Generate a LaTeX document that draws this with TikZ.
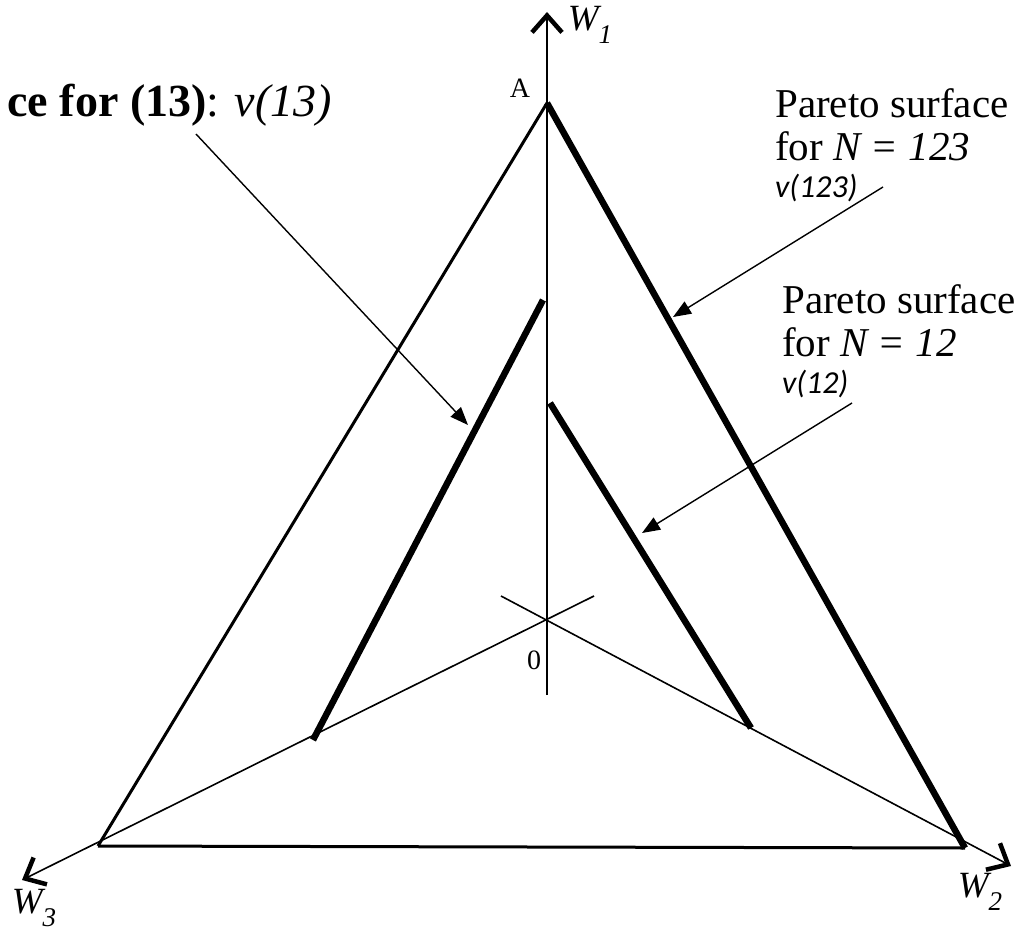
\documentclass[tikz,border=0pt]{standalone}
\usepackage{fontspec}
\setmainfont{Liberation Serif}
\newfontfamily\calib{Carlito}
\usetikzlibrary{arrows.meta}
\tikzset{
  axisline/.style={line width=1.6pt,-{Straight Barb[length=17pt,width=30pt,line width=4.5pt]}},
  thinside/.style={line width=3pt},
  thickside/.style={line width=6.5pt},
  pointer/.style={line width=1.4pt,-{Triangle[length=18pt,width=14pt]}},
  lbl/.style={inner sep=0pt,anchor=base west,font=\fontsize{41}{46}\selectfont},
  vlbl/.style={inner sep=0pt,anchor=base west,font=\calib\itshape\fontsize{32}{36}\selectfont},
  wlbl/.style={inner sep=0pt,font=\itshape\fontsize{37}{40}\selectfont},
  small/.style={inner sep=0pt,font=\fontsize{28}{32}\selectfont}
}
\newcommand{\wsub}[1]{W\raisebox{-0.35em}{\fontsize{27}{28}\selectfont #1}}
\begin{document}
\begin{tikzpicture}[x=1pt,y=-1pt]
\useasboundingbox (0,0) rectangle (1017,934);
% key points
\coordinate (O) at (547,620);
\coordinate (A) at (547,103);
\coordinate (BL) at (98,846);
\coordinate (BR) at (965,848);
\coordinate (W1tip) at (547,12);
\coordinate (Abot) at (547,695);
\coordinate (W2tip) at (1011,866);
\coordinate (W3tip) at (22,880);
\coordinate (stubL) at (501,596);
\coordinate (stubR) at (594,596);
\coordinate (p13a) at (313,740);
\coordinate (p13b) at (543,300);
\coordinate (p12a) at (550,403);
\coordinate (p12b) at (751,728);
% axes
\draw[axisline] (Abot) -- (W1tip);
\draw[axisline] (stubL) -- (W2tip);
\draw[axisline] (stubR) -- (W3tip);
% triangle
\draw[thinside] (BL) -- (A);
\draw[thinside] (BL) -- (BR);
\draw[thickside] (A) -- (BR);
% inner Pareto surfaces
\draw[thickside] (p13a) -- (p13b);
\draw[thickside] (p12a) -- (p12b);
% labels
\node[wlbl] (lw1) at (590,25) {\wsub{1}};
\node[wlbl] (lw2) at (980,892) {\wsub{2}};
\node[wlbl] (lw3) at (34,908) {\wsub{3}};
\node[small] (lA) at (520,88) {A};
\node[small] (l0) at (534,660) {0};
\node[inner sep=0pt,anchor=base east,font=\fontsize{46}{50}\selectfont] (t13) at (332,116) {\textbf{ce for (13)}: \textit{v(13)}};
\node[lbl] (t123a) at (775,117) {Pareto surface};
\node[lbl] (t123b) at (775,160) {for \textit{N = 123}};
\node[vlbl] (t123c) at (775,197) {v(123)};
\node[lbl] (t12a) at (782,313) {Pareto surface};
\node[lbl] (t12b) at (782,356) {for \textit{N = 12}};
\node[vlbl] (t12c) at (782,393) {v(12)};
\coordinate (s13) at (196,134);
\coordinate (e13) at (468,425);
\coordinate (s123) at (883,187);
\coordinate (e123) at (673,317);
\coordinate (s12) at (852,403);
\coordinate (e12) at (642,533);
\draw[pointer] (s13) -- (e13);
\draw[pointer] (s123) -- (e123);
\draw[pointer] (s12) -- (e12);
\end{tikzpicture}
\end{document}
